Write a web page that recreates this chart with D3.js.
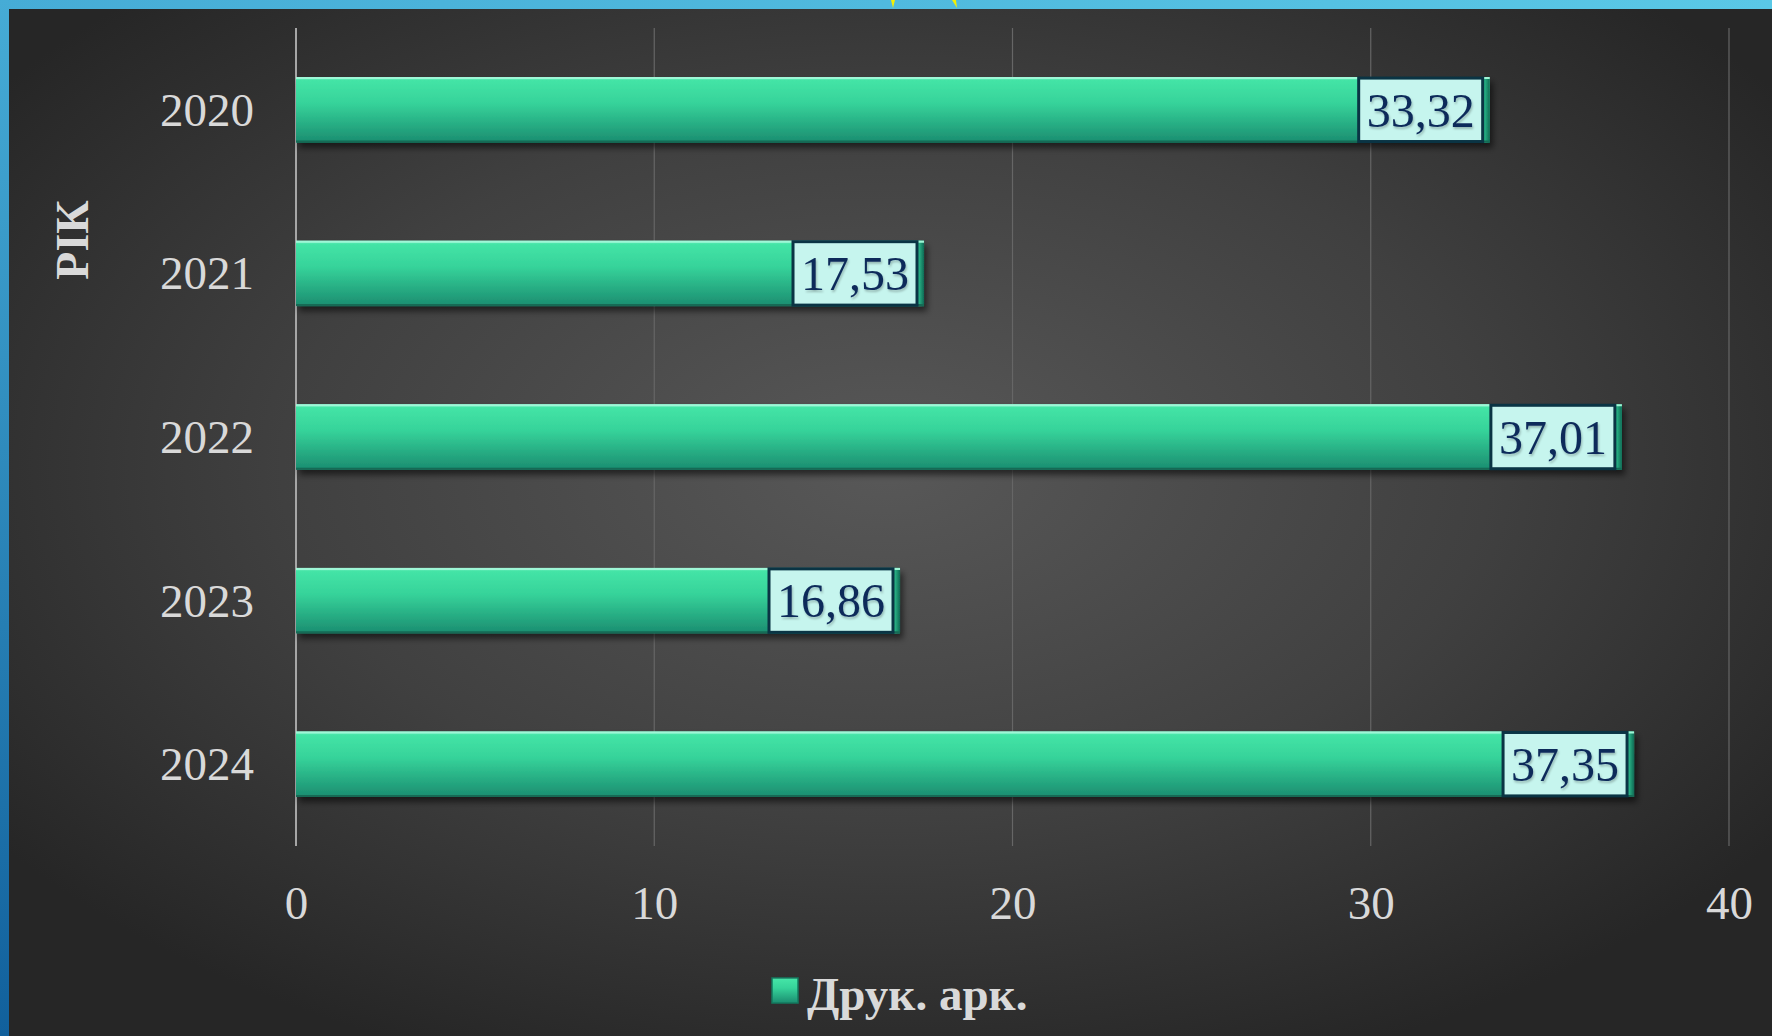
<!DOCTYPE html>
<html>
<head>
<meta charset="utf-8">
<script src="https://cdn.jsdelivr.net/npm/d3@7"></script>
<style>
  html, body { margin: 0; padding: 0; background: #2a2a2a; overflow: hidden; }
  svg { display: block; }
</style>
</head>
<body>
<svg id="chart" width="1772" height="1036"></svg>
<script>
const years = ["2020", "2021", "2022", "2023", "2024"];
const values = [33.32, 17.53, 37.01, 16.86, 37.35];
const xTicks = [0, 10, 20, 30, 40];
const seriesName = "Друк. арк.";
const axisTitle = "РІК";

(function () {
const W = 1772, H = 1036;
const svg = d3.select("#chart");
const defs = svg.append("defs");

const bg = defs.append("radialGradient").attr("id", "bg")
  .attr("cx", "50%").attr("cy", "45%").attr("r", "62%");
bg.append("stop").attr("offset", "0%").attr("stop-color", "#585858");
bg.append("stop").attr("offset", "55%").attr("stop-color", "#404040");
bg.append("stop").attr("offset", "100%").attr("stop-color", "#262626");

const topBlue = defs.append("linearGradient").attr("id", "topBlue")
  .attr("x1", "0").attr("x2", "1").attr("y1", "0").attr("y2", "0");
topBlue.append("stop").attr("offset", "0%").attr("stop-color", "#46acd6");
topBlue.append("stop").attr("offset", "100%").attr("stop-color", "#5ac8e6");

const leftBlue = defs.append("linearGradient").attr("id", "leftBlue")
  .attr("x1", "0").attr("x2", "0").attr("y1", "0").attr("y2", "1");
leftBlue.append("stop").attr("offset", "0%").attr("stop-color", "#46acd6");
leftBlue.append("stop").attr("offset", "100%").attr("stop-color", "#11609c");

const barGrad = defs.append("linearGradient").attr("id", "barGrad")
  .attr("x1", "0").attr("x2", "0").attr("y1", "0").attr("y2", "1");
barGrad.append("stop").attr("offset", "0%").attr("stop-color", "#8af5cf");
barGrad.append("stop").attr("offset", "5%").attr("stop-color", "#44e4a6");
barGrad.append("stop").attr("offset", "40%").attr("stop-color", "#36d39a");
barGrad.append("stop").attr("offset", "100%").attr("stop-color", "#1b8d70");

const endGrad = defs.append("linearGradient").attr("id", "endGrad")
  .attr("x1", "0").attr("x2", "1").attr("y1", "0").attr("y2", "0");
endGrad.append("stop").attr("offset", "0%").attr("stop-color", "#2cc08e");
endGrad.append("stop").attr("offset", "100%").attr("stop-color", "#0f6a55");

const shadow = defs.append("filter").attr("id", "shadow")
  .attr("x", "-5%").attr("y", "-30%").attr("width", "110%").attr("height", "170%");
shadow.append("feDropShadow").attr("dx", 3).attr("dy", 5).attr("stdDeviation", 3)
  .attr("flood-color", "#000").attr("flood-opacity", 0.55);

const txtShadow = defs.append("filter").attr("id", "txtShadow");
txtShadow.append("feDropShadow").attr("dx", 1).attr("dy", 2).attr("stdDeviation", 1)
  .attr("flood-color", "#000").attr("flood-opacity", 0.25);

svg.append("rect").attr("width", W).attr("height", H).attr("fill", "url(#bg)");
svg.append("rect").attr("x", 0).attr("y", 0).attr("width", W).attr("height", 9).attr("fill", "url(#topBlue)");
svg.append("rect").attr("x", 0).attr("y", 0).attr("width", 9).attr("height", H).attr("fill", "url(#leftBlue)");
svg.append("path").attr("d", "M891,0 L895,0 L893,8 Z").attr("fill", "#f4f000");
svg.append("path").attr("d", "M952,0 L956,0 L957,8 Z").attr("fill", "#f4f000");

const yTop = 28, yBottom = 846, xLeft = 296, xRight = 1729;
const x = d3.scaleLinear().domain([0, 40]).range([xLeft, xRight]);
const y = d3.scaleBand().domain(years).range([yTop, yBottom]).paddingInner(0.6).paddingOuter(0.3);

svg.append("g").selectAll("line").data(xTicks.filter(d => d !== 0)).join("line")
  .attr("x1", d => x(d)).attr("x2", d => x(d))
  .attr("y1", yTop).attr("y2", yBottom)
  .attr("stroke", "#666").attr("stroke-width", 1.2);

svg.append("line").attr("x1", x(0)).attr("x2", x(0)).attr("y1", yTop).attr("y2", yBottom)
  .attr("stroke", "#a6a6a6").attr("stroke-width", 2);

const xAxis = svg.append("g").attr("transform", `translate(0,${yBottom})`)
  .call(d3.axisBottom(x).tickValues(xTicks).tickSize(0).tickPadding(40).tickFormat(d3.format("d")));
xAxis.select(".domain").remove();
xAxis.selectAll("text").attr("fill", "#d9d9d9")
  .style("font-family", "'Liberation Serif','Times New Roman',serif").style("font-size", "47px");

const yAxis = svg.append("g").attr("transform", `translate(${xLeft},0)`)
  .call(d3.axisLeft(y).tickSize(0).tickPadding(42));
yAxis.select(".domain").remove();
yAxis.selectAll("text").attr("fill", "#d9d9d9").attr("dy", "0.34em")
  .style("font-family", "'Liberation Serif','Times New Roman',serif").style("font-size", "47px");

svg.append("text").attr("transform", "translate(88,240) rotate(-90)")
  .attr("text-anchor", "middle").attr("fill", "#d9d9d9")
  .style("font-family", "'Liberation Serif','Times New Roman',serif")
  .style("font-size", "46px").style("font-weight", "bold").text(axisTitle);

const data = years.map((yr, i) => ({ yr, v: values[i] }));
const bars = svg.append("g").selectAll("g").data(data).join("g").attr("filter", "url(#shadow)");
bars.append("rect")
  .attr("x", x(0)).attr("y", d => y(d.yr))
  .attr("width", d => x(d.v) - x(0)).attr("height", y.bandwidth())
  .attr("fill", "url(#barGrad)");
bars.append("rect")
  .attr("x", d => x(d.v) - 6).attr("y", d => y(d.yr))
  .attr("width", 6).attr("height", y.bandwidth())
  .attr("fill", "url(#endGrad)");
bars.append("line")
  .attr("x1", x(0)).attr("x2", d => x(d.v)).attr("y1", d => y(d.yr) + 1).attr("y2", d => y(d.yr) + 1)
  .attr("stroke", "#9ff7d7").attr("stroke-width", 2);
bars.append("line")
  .attr("x1", x(0)).attr("x2", d => x(d.v)).attr("y1", d => y(d.yr) + y.bandwidth() - 1).attr("y2", d => y(d.yr) + y.bandwidth() - 1)
  .attr("stroke", "#136a54").attr("stroke-width", 2);

const boxW = 124;
const labels = svg.append("g").selectAll("g").data(data).join("g");
labels.append("rect")
  .attr("x", d => x(d.v) - 7 - boxW).attr("y", d => y(d.yr) + 1)
  .attr("width", boxW).attr("height", y.bandwidth() - 2)
  .attr("fill", "#c6f5ee").attr("stroke", "#0a3444").attr("stroke-width", 3);
labels.append("text")
  .attr("x", d => x(d.v) - 7 - boxW / 2).attr("y", d => y(d.yr) + y.bandwidth() / 2)
  .attr("dy", "0.35em").attr("text-anchor", "middle")
  .attr("fill", "#0c2b5a").attr("filter", "url(#txtShadow)")
  .style("font-family", "'Liberation Serif','Times New Roman',serif").style("font-size", "48px")
  .text(d => d.v.toFixed(2).replace(".", ","));

const lg = svg.append("g");
lg.append("rect").attr("x", 772).attr("y", 978).attr("width", 26).attr("height", 25)
  .attr("fill", "url(#barGrad)").attr("stroke", "#137a5f").attr("stroke-width", 1.5);
lg.append("text").attr("x", 807).attr("y", 1010).attr("fill", "#d9d9d9")
  .style("font-family", "'Liberation Serif','Times New Roman',serif")
  .style("font-size", "47px").style("font-weight", "bold").text(seriesName);
})();
</script>
</body>
</html>
